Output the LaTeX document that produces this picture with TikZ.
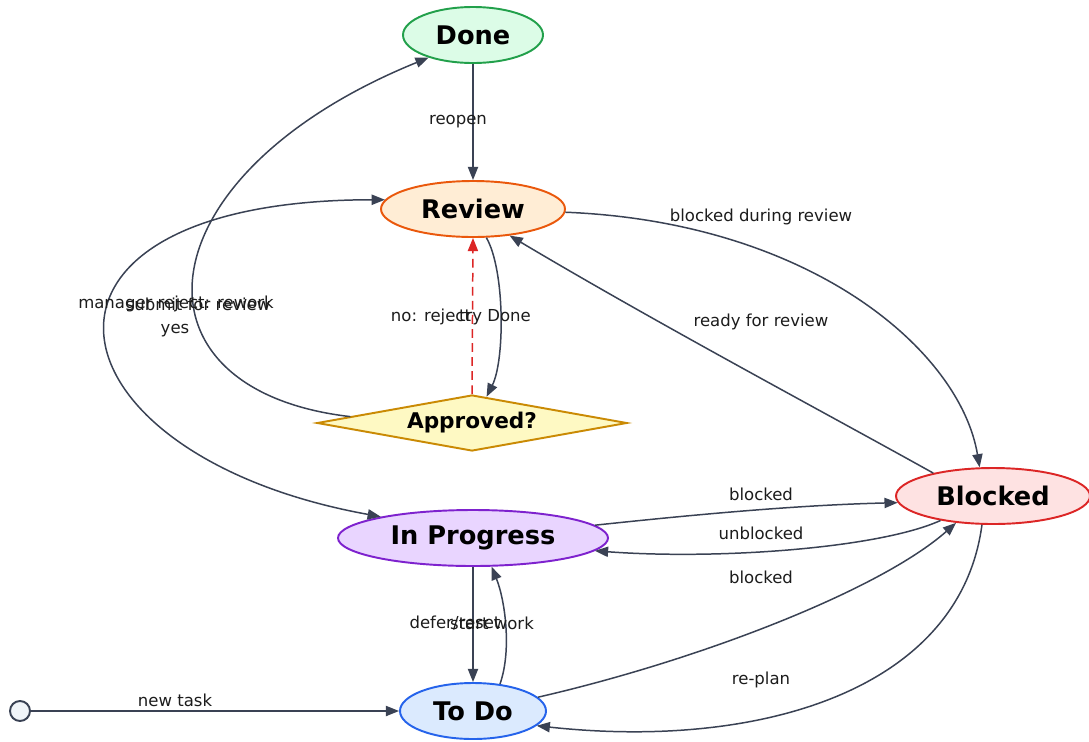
\documentclass[tikz,border=0pt]{standalone}
\usepackage{fontspec}
\setmainfont{DejaVu Sans}
\usetikzlibrary{shapes.geometric,arrows.meta}
\definecolor{edgec}{HTML}{3A4254}
\definecolor{txtc}{HTML}{1C1C1C}
\definecolor{doneF}{HTML}{DCFCE7}\definecolor{doneD}{HTML}{22A04B}
\definecolor{revF}{HTML}{FFEDD5}\definecolor{revD}{HTML}{EA580C}
\definecolor{apF}{HTML}{FEF9C3}\definecolor{apD}{HTML}{CA8A04}
\definecolor{blkF}{HTML}{FEE2E2}\definecolor{blkD}{HTML}{DC2626}
\definecolor{ipF}{HTML}{E9D5FF}\definecolor{ipD}{HTML}{7E22CE}
\definecolor{tdF}{HTML}{DBEAFE}\definecolor{tdD}{HTML}{2563EB}
\definecolor{startF}{HTML}{F1F5F9}
\def\pxl{0.02cm}
\tikzset{
  state/.style={ellipse, draw, line width=1.1pt, inner sep=0pt,
    font=\fontsize{14.6}{16}\selectfont\bfseries, text=black},
  tip/.tip={Triangle[length=7.5pt,width=5.8pt]},
  flow/.style={draw=edgec, line width=0.85pt, -tip},
  lbl/.style={font=\fontsize{9.4}{10}\selectfont, text=txtc, inner sep=1pt}
}
\begin{document}
\begin{tikzpicture}[x=0.02cm,y=-0.02cm]
\useasboundingbox[fill=white] (0,0) rectangle (1089,741);

% states
\node[state, fill=doneF, draw=doneD, minimum width=140*\pxl, minimum height=56*\pxl] (done) at (473,35) {Done};
\node[state, fill=revF, draw=revD, minimum width=184*\pxl, minimum height=56*\pxl] (review) at (473,209) {Review};
\node[diamond, draw=apD, fill=apF, line width=1.1pt, inner sep=0pt, aspect=5.5,
      minimum width=310*\pxl, minimum height=56*\pxl,
      font=\fontsize{12.3}{14}\selectfont\bfseries] (approved) at (472,423) {Approved?};
\node[state, fill=blkF, draw=blkD, minimum width=194*\pxl, minimum height=56*\pxl] (blocked) at (993,496) {Blocked};
\node[state, fill=ipF, draw=ipD, minimum width=270*\pxl, minimum height=56*\pxl] (inprog) at (473,538) {In Progress};
\node[state, fill=tdF, draw=tdD, minimum width=146*\pxl, minimum height=56*\pxl] (todo) at (473,711) {To Do};
\node[circle, draw=edgec, fill=startF, line width=1.1pt, minimum size=20*\pxl, inner sep=0pt] (start) at (20,711) {};

% transitions
\draw[flow] (start) -- (todo);
\draw[flow] (done) -- (review);
\draw[flow] (review.-65) .. controls (505,270) and (505,360) .. (approved.61);
\draw[flow, draw=blkD, dashed, dash pattern=on 5pt off 3pt] (approved.north) -- (review.south);
\draw[flow] (approved.177) .. controls (120,390) and (140,175) .. (done.207);
\draw[flow, tip-tip]
  (review.174) .. controls (-10,200) and (40,455) .. (inprog.167);
\draw[flow] (review.-2) .. controls (810,222) and (960,350) .. (blocked.115);
\draw[flow] (blocked.159) .. controls (820,410) and (660,325) .. (review.-36);
\draw[flow] (inprog.6) .. controls (700,514) and (800,505) .. (blocked.184);
\draw[flow] (blocked.205) .. controls (880,548) and (720,560) .. (inprog.-6);
\draw[flow] (todo.12) .. controls (700,660) and (880,590) .. (blocked.216);
\draw[flow] (blocked.249) .. controls (960,690) and (760,750) .. (todo.-13);
\draw[flow] (inprog.south) -- (todo.north);
\draw[flow] (todo.45) .. controls (512,650) and (505,600) .. (inprog.-57);

% transition labels
\node[lbl] (lnew) at (175,700) {new task};
\node[lbl] (lreopen) at (458,122) {reopen};
\node[lbl] (ltry) at (495,317) {try Done};
\node[lbl] (lno) at (431,317) {no: reject};
\node[lbl] (lyes) at (175,331) {yes};
\node[lbl] (lmgr) at (176,304) {manager reject: rework};
\node[lbl] (lsub) at (198,304) {submit for review};
\node[lbl] (lbdr) at (761,217) {blocked during review};
\node[lbl] (lrfr) at (761,322) {ready for review};
\node[lbl] (lb1) at (761,494) {blocked};
\node[lbl] (lunb) at (761,533) {unblocked};
\node[lbl] (lb2) at (761,577) {blocked};
\node[lbl] (lrep) at (761,680) {re-plan};
\node[lbl] (ldef) at (455,623) {defer/reset};
\node[lbl] (lstw) at (492,623) {start work};
\end{tikzpicture}
\end{document}
